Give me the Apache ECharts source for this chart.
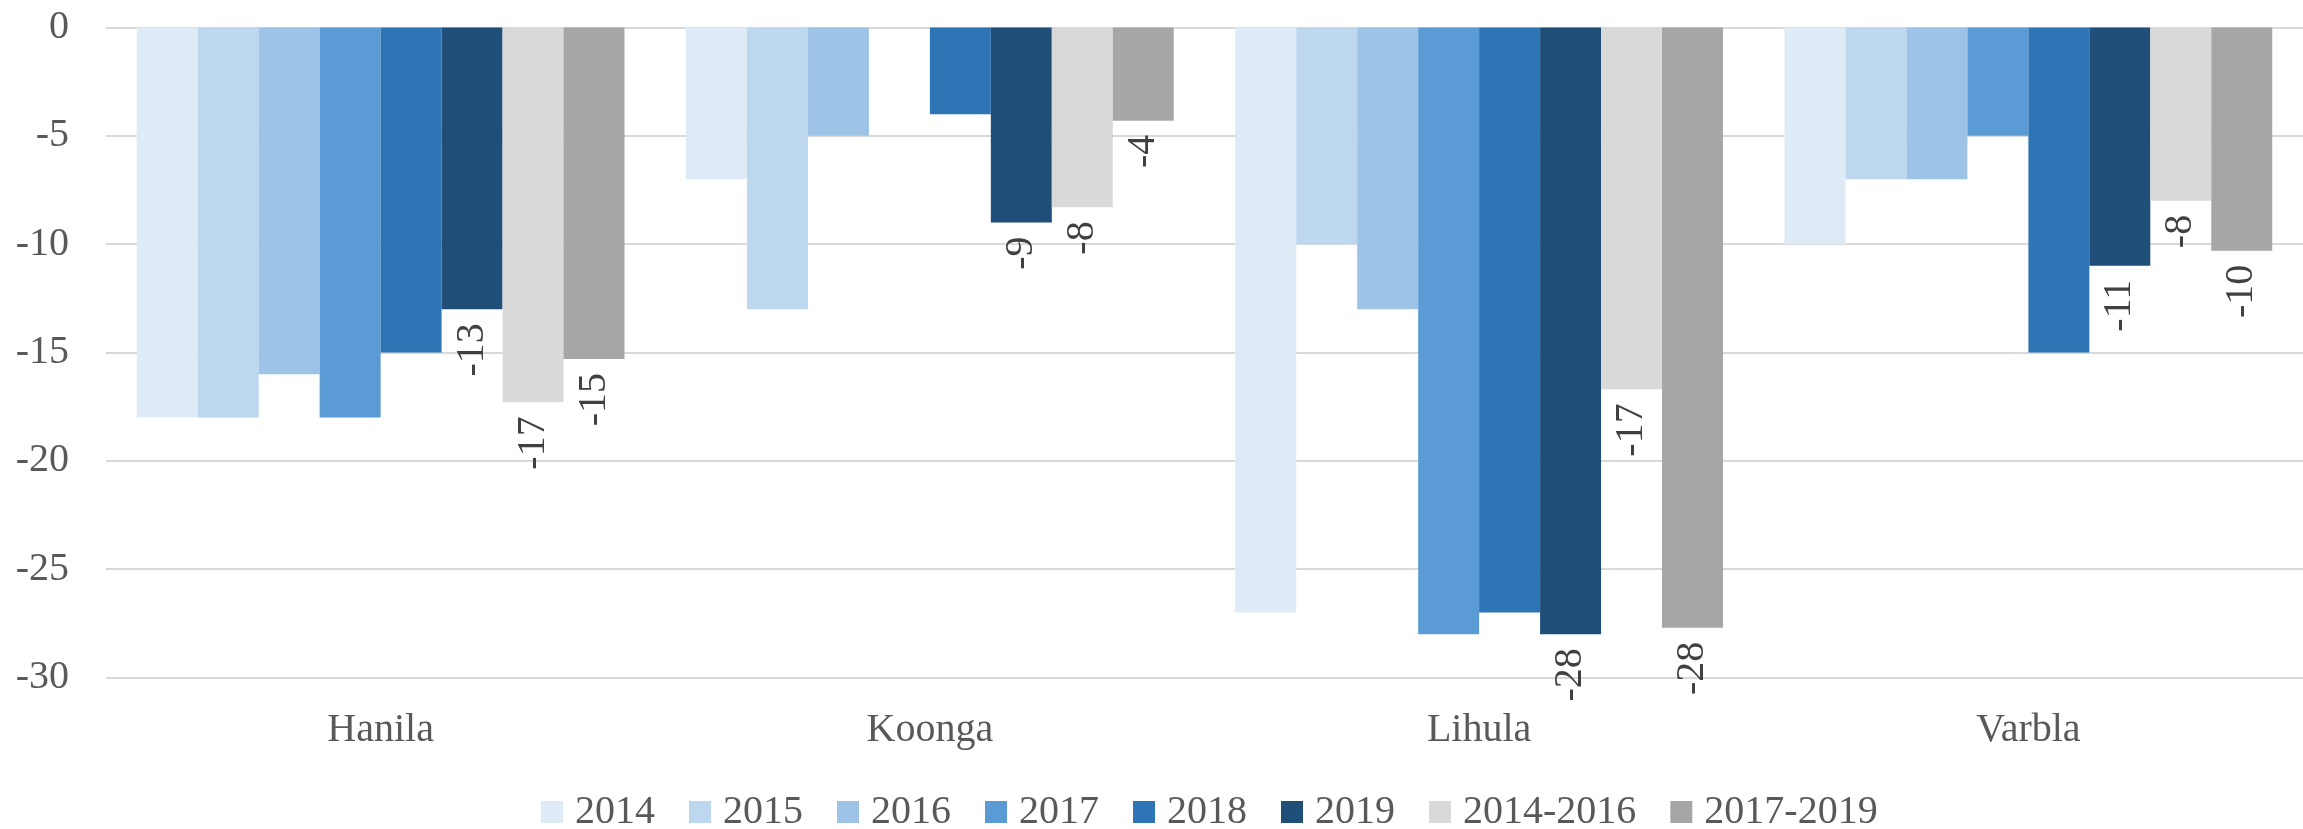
<!DOCTYPE html>
<html>
<head>
<meta charset="utf-8">
<script src="https://cdn.jsdelivr.net/npm/echarts@6/dist/echarts.min.js"></script>
<style>
html,body{margin:0;padding:0;background:#fff;}
#chart{width:2303px;height:829px;}
</style>
</head>
<body>
<div id="chart"></div>
<script>
const categories = ['Hanila', 'Koonga', 'Lihula', 'Varbla'];
const seriesNames = ['2014', '2015', '2016', '2017', '2018', '2019', '2014-2016', '2017-2019'];
const v2014 = [-18, -7, -27, -10];
const v2015 = [-18, -13, -10, -7];
const v2016 = [-16, -5, -13, -7];
const v2017 = [-18, 0, -28, -5];
const v2018 = [-15, -4, -27, -15];
const v2019 = [-13, -9, -28, -11];
const v2014_2016 = [-17.3, -8.3, -16.7, -8];
const v2017_2019 = [-15.3, -4.3, -27.7, -10.3];
const yTicks = { min: -30, max: 0, interval: 5 };

const colors = ['#DEEAF6', '#BDD7EE', '#9DC3E6', '#5B9BD5', '#2E75B6', '#1F4E79', '#D9D9D9', '#A6A6A6'];
const values = [v2014, v2015, v2016, v2017, v2018, v2019, v2014_2016, v2017_2019];
const labeled = [false, false, false, false, false, true, true, true];
const FONT = 'Liberation Serif';

const series = seriesNames.map((name, i) => ({
  name: name,
  type: 'bar',
  data: values[i],
  barGap: '0%',
  barCategoryGap: '11.2%',
  itemStyle: { color: colors[i] },
  label: {
    show: labeled[i],
    position: 'bottom',
    distance: 14,
    rotate: 90,
    align: 'right',
    verticalAlign: 'middle',
    fontFamily: FONT,
    fontSize: 40,
    color: '#404040',
    formatter: p => String(Math.round(p.value))
  }
}));

const chart = echarts.init(document.getElementById('chart'), null, { renderer: 'canvas' });
chart.setOption({
  animation: false,
  color: colors,
  textStyle: { fontFamily: FONT },
  grid: { left: 106, right: -11, top: 27.5, height: 650, containLabel: false },
  legend: {
    data: seriesNames,
    left: 536,
    top: 787,
    itemWidth: 22,
    itemHeight: 22,
    itemGap: 34,
    icon: 'rect',
    textStyle: { fontFamily: FONT, fontSize: 40, color: '#595959', padding: [0, 0, 0, 7] }
  },
  xAxis: {
    type: 'category',
    data: categories,
    axisLine: { show: false, onZero: false },
    axisTick: { show: false },
    axisLabel: { fontFamily: FONT, fontSize: 40, color: '#595959', margin: 33 }
  },
  yAxis: {
    type: 'value',
    min: yTicks.min,
    max: yTicks.max,
    interval: yTicks.interval,
    axisLine: { show: false },
    axisTick: { show: false },
    splitLine: { lineStyle: { color: '#D9D9D9', width: 2 } },
    axisLabel: { fontFamily: FONT, fontSize: 40, color: '#595959', margin: 37 }
  },
  series: series
});
</script>
</body>
</html>
